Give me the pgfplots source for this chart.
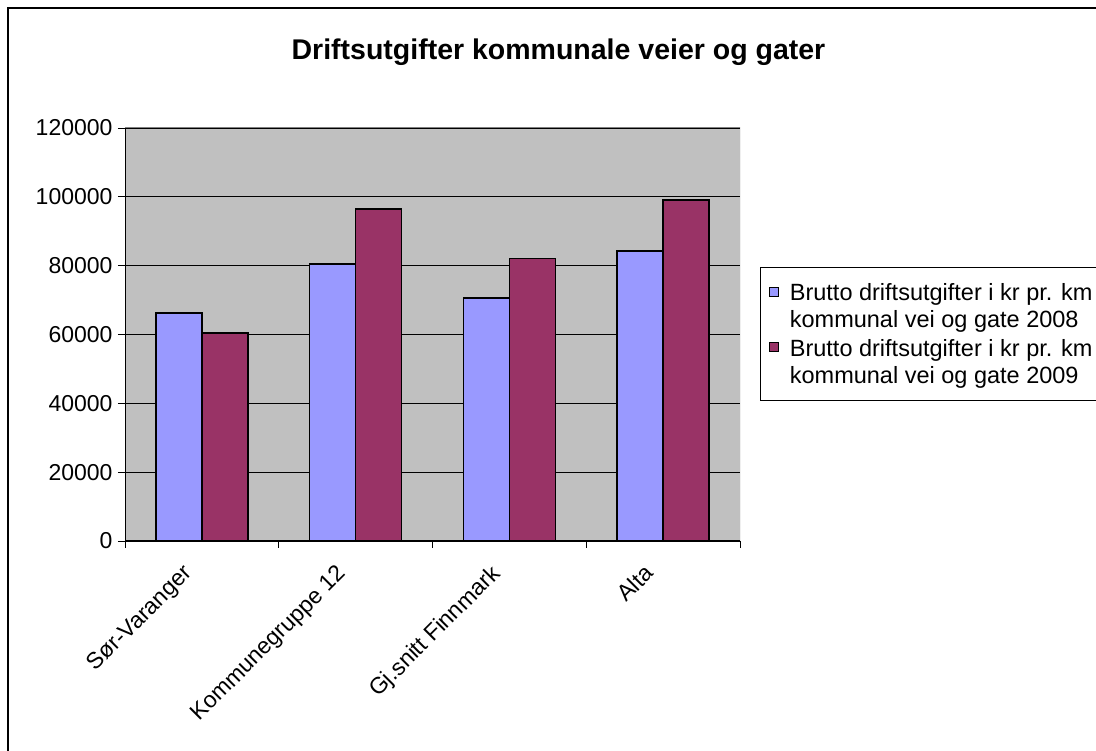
\documentclass[border=0pt]{standalone}
\usepackage{fontspec}
\setmainfont{Liberation Sans}
\usepackage{pgfplots}
\pgfplotsset{compat=1.18}

\definecolor{plotbg}{HTML}{C0C0C0}
\definecolor{bar08}{HTML}{9999FF}
\definecolor{bar09}{HTML}{993366}

\begin{document}
\begin{tikzpicture}[x=1pt,y=1pt]
\useasboundingbox (0,0) rectangle (1096,751);
% outer chart frame (only top and left edges are visible)
\draw[line width=2.2pt] (8,-20) -- (8,743) -- (1120,743);
\node[font=\fontsize{28.5}{32}\selectfont\bfseries] at (558.5,699) {Driftsutgifter kommunale veier og gater};

\begin{axis}[
  at={(125pt,210pt)}, anchor=south west,
  scale only axis, width=615pt, height=413pt,
  ybar=0pt, bar width=46pt,
  xmin=0.5, xmax=4.5, ymin=0, ymax=120000,
  xtick={1,2,3,4},
  xticklabels={Sør-Varanger, Kommunegruppe 12, Gj.snitt Finnmark, Alta},
  minor xtick={0.5,1.5,2.5,3.5,4.5},
  major x tick style={draw=none},
  xtick pos=lower, ytick pos=left,
  ytick={0,20000,40000,60000,80000,100000,120000},
  yticklabels={0,20000,40000,60000,80000,100000,120000},
  scaled y ticks=false,
  tick align=outside,
  major tick length=7pt, minor tick length=7pt,
  tick style={black, line width=0.9pt},
  ymajorgrids, grid style={black, line width=0.9pt},
  axis background/.style={fill=plotbg},
  axis line style={draw=none},
  ticklabel style={font=\fontsize{23}{27}\selectfont},
  yticklabel style={xshift=-2pt},
  xticklabel style={xshift=-20pt, yshift=-12pt, rotate=45, anchor=north east, inner sep=2pt},
  legend style={at={(1.0325,0.6634)}, anchor=north west,
    draw=black, line width=0.9pt, fill=white,
    font=\fontsize{23.5}{27}\selectfont,
    cells={align=left, anchor=west, inner sep=0pt, font=\fontsize{23.5}{27}\selectfont},
    row sep=6pt, inner xsep=9pt, inner ysep=14pt},
  legend image code/.code={
    \draw[#1, line width=0.9pt] (0pt,10pt) rectangle (9pt,19pt);
    \path[draw=none, fill=none] (0pt,-19pt) -- (18pt,-19pt);},
]
\addplot[fill=bar08, draw=black, line width=1.6pt] coordinates {(1,66300) (2,80500) (3,70600) (4,84300)};
\addlegendentry{Brutto driftsutgifter i kr pr. km\\kommunal vei og gate 2008}
\addplot[fill=bar09, draw=black, line width=1.6pt] coordinates {(1,60500) (2,96400) (3,82100) (4,99000)};
\addlegendentry{Brutto driftsutgifter i kr pr. km\\kommunal vei og gate 2009}
\draw[gray, line width=1pt] (rel axis cs:0,1) -- (rel axis cs:1,1) -- (rel axis cs:1,0);
\draw[black, line width=1pt] (rel axis cs:0,1) -- (rel axis cs:0,0) -- (rel axis cs:1,0);
\end{axis}
\end{tikzpicture}
\end{document}
